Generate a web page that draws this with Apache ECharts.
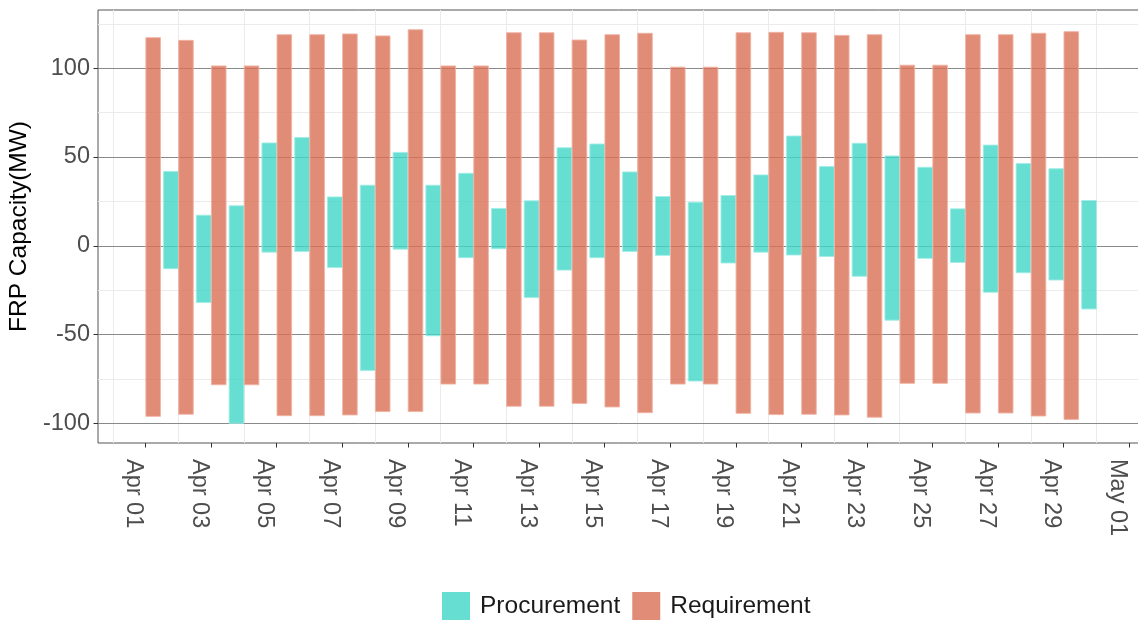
<!DOCTYPE html>
<html>
<head>
<meta charset="utf-8">
<script src="https://cdn.jsdelivr.net/npm/echarts@6/dist/echarts.min.js"></script>
<style>
  html, body { margin: 0; padding: 0; background: #ffffff; }
  #chart { width: 1138px; height: 621px; }
</style>
</head>
<body>
<div id="chart"></div>
<script>
// Daily FRP capacity ranges (MW), April
const days = ['Apr 01','Apr 02','Apr 03','Apr 04','Apr 05','Apr 06','Apr 07','Apr 08','Apr 09','Apr 10',
              'Apr 11','Apr 12','Apr 13','Apr 14','Apr 15','Apr 16','Apr 17','Apr 18','Apr 19','Apr 20',
              'Apr 21','Apr 22','Apr 23','Apr 24','Apr 25','Apr 26','Apr 27','Apr 28','Apr 29'];

const requirementHigh = [117.2, 115.7, 101.3, 101.3, 118.9, 118.9, 119.3, 118.2, 121.7, 101.3,
                         101.3, 120.0, 120.0, 115.9, 118.9, 119.7, 100.6, 100.6, 120.0, 120.2,
                         120.0, 118.5, 118.9, 101.7, 101.7, 118.9, 118.9, 119.7, 120.6];
const requirementLow  = [-96.1, -94.9, -78.3, -78.3, -95.7, -95.7, -95.3, -93.4, -93.4, -77.9,
                         -77.9, -90.4, -90.4, -88.8, -90.8, -94.0, -77.9, -77.9, -94.4, -95.1,
                         -94.9, -95.3, -96.6, -77.5, -77.5, -94.2, -94.2, -95.9, -97.8];

const procurementHigh = [41.9, 17.2, 22.5, 57.9, 61.0, 27.5, 34.1, 52.6, 34.1, 40.8,
                         21.0, 25.3, 55.2, 57.3, 41.6, 27.7, 24.5, 28.3, 39.9, 61.8,
                         44.6, 57.7, 50.6, 44.2, 20.8, 56.7, 46.3, 43.4, 25.5];
const procurementLow  = [-12.9, -32.0, -100.0, -3.6, -3.2, -12.2, -70.2, -1.9, -50.7, -6.7,
                         -1.7, -29.2, -13.7, -6.7, -3.2, -5.4, -76.2, -9.7, -3.6, -5.2,
                         -6.0, -17.2, -41.9, -7.1, -9.4, -26.2, -15.2, -19.3, -35.6];

// Axis tick labels: every second day starting Apr 01
const dateTickLabels = ['Apr 01','Apr 03','Apr 05','Apr 07','Apr 09','Apr 11','Apr 13','Apr 15',
                        'Apr 17','Apr 19','Apr 21','Apr 23','Apr 25','Apr 27','Apr 29','May 01'];
const valueTicks = [-100, -50, 0, 50, 100];

// ---- layout / styling ----
const FONT = '"Liberation Sans", Arial, Helvetica, sans-serif';
const REQ_COLOR = 'rgba(216,111,85,0.8)';
const REQ_EDGE = 'rgba(240,178,162,0.9)';
const PROC_COLOR = 'rgba(64,214,199,0.8)';
const PROC_EDGE = 'rgba(160,236,228,0.9)';

// x positions are day offsets from Apr 01 00:00
const dateTickPos = dateTickLabels.map((_, i) => i * 2);
const dateMinorPos = dateTickPos.map(v => v - 1);
const valueMinor = valueTicks.map(v => v + 25);

const X_MIN = -1.45, X_MAX = 30.45;
const Y_MIN = -111.1, Y_MAX = 132.8;

// each day holds two dodged bars: requirement on the left, procurement on the right
function rangeBar(from, to, edge) {
  return function (params, api) {
    const d = api.value(0);
    const top = api.coord([d + from, api.value(2)]);
    const bottom = api.coord([d + to, api.value(1)]);
    return {
      type: 'rect',
      shape: { x: top[0], y: top[1], width: bottom[0] - top[0], height: bottom[1] - top[1] },
      style: { fill: api.visual('color'), stroke: edge, lineWidth: 1 }
    };
  };
}

const reqData = days.map((_, i) => [i, requirementLow[i], requirementHigh[i]]);
const procData = days.map((_, i) => [i, procurementLow[i], procurementHigh[i]]);

const chart = echarts.init(document.getElementById('chart'), null, { renderer: 'canvas' });

chart.setOption({
  animation: false,
  backgroundColor: '#ffffff',
  grid: {
    left: 98, top: 10, right: -6, bottom: 178,
    show: true, borderColor: '#555555', borderWidth: 1, backgroundColor: '#ffffff',
    containLabel: false, outerBoundsMode: 'none'
  },
  legend: {
    data: ['Procurement', 'Requirement'],
    left: 442, top: 592, padding: 0,
    icon: 'rect', itemWidth: 28, itemHeight: 28, itemGap: 12,
    selectedMode: false,
    itemStyle: { borderWidth: 0 },
    textStyle: { fontSize: 24.5, color: '#1a1a1a', fontFamily: FONT, padding: [0, 0, 0, 5] }
  },
  xAxis: [{
    type: 'value', min: X_MIN, max: X_MAX, position: 'bottom',
    axisLine: { show: false, onZero: false },
    axisTick: { show: true, length: 4.5, customValues: dateTickPos, lineStyle: { color: '#333333', width: 1 } },
    axisLabel: {
      customValues: dateTickPos,
      formatter: v => dateTickLabels[Math.round(v / 2)],
      rotate: -90, verticalAlign: 'top', margin: 16,
      fontSize: 23.5, color: '#4d4d4d', fontFamily: FONT
    },
    splitLine: { show: false },
    z: 3
  }, {
    type: 'value', min: X_MIN, max: X_MAX, position: 'top',
    axisLine: { show: false, onZero: false },
    axisTick: { show: false, customValues: dateMinorPos },
    axisLabel: { show: false },
    splitLine: { show: true, lineStyle: { color: '#ebebeb', width: 1 } },
    z: 1
  }],
  yAxis: [{
    type: 'value', min: Y_MIN, max: Y_MAX, position: 'left',
    axisLine: { show: false, onZero: false },
    axisTick: { show: true, length: 4.5, customValues: valueTicks, lineStyle: { color: '#333333', width: 1 } },
    axisLabel: { customValues: valueTicks, margin: 8, fontSize: 23.5, color: '#4d4d4d', fontFamily: FONT },
    splitLine: { show: true, lineStyle: { color: '#8a8a8a', width: 1 } },
    name: 'FRP Capacity(MW)', nameLocation: 'middle', nameGap: 64,
    nameTextStyle: { fontSize: 24.5, color: '#000000', fontFamily: FONT },
    z: 3
  }, {
    type: 'value', min: Y_MIN, max: Y_MAX, position: 'right',
    axisLine: { show: false, onZero: false },
    axisTick: { show: false, customValues: valueMinor },
    axisLabel: { show: false },
    splitLine: { show: true, lineStyle: { color: '#ebebeb', width: 1 } },
    z: 1
  }],
  series: [{
    name: 'Procurement', type: 'custom', coordinateSystem: 'cartesian2d',
    xAxisIndex: 0, yAxisIndex: 0, z: 5,
    itemStyle: { color: PROC_COLOR },
    renderItem: rangeBar(0.55, 1.0, PROC_EDGE),
    encode: { x: 0, y: [1, 2] },
    data: procData
  }, {
    name: 'Requirement', type: 'custom', coordinateSystem: 'cartesian2d',
    xAxisIndex: 0, yAxisIndex: 0, z: 5,
    itemStyle: { color: REQ_COLOR },
    renderItem: rangeBar(0.01, 0.455, REQ_EDGE),
    encode: { x: 0, y: [1, 2] },
    data: reqData
  }]
});
</script>
</body>
</html>
